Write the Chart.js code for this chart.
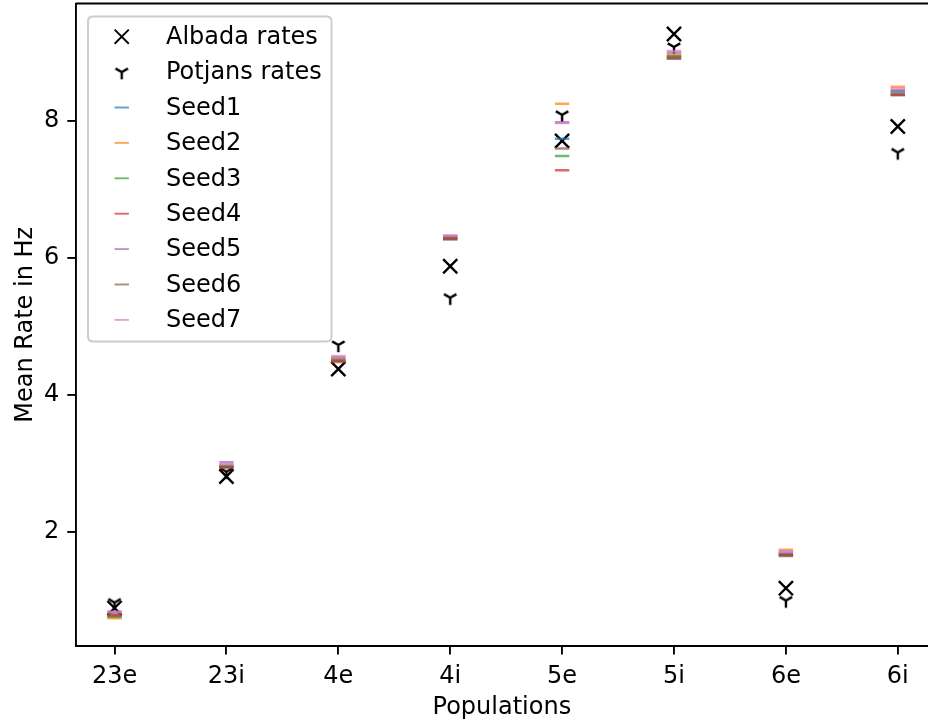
<!DOCTYPE html>
<html>
<head>
<meta charset="utf-8">
<script src="https://cdn.jsdelivr.net/npm/chart.js@4"></script>
<style>
html,body{margin:0;padding:0;background:#fff;overflow:hidden;}
#wrap{width:928px;height:722px;position:relative;}
</style>
</head>
<body>
<div id="wrap"><canvas id="c" width="928" height="722"></canvas></div>
<script>
// ---- data ----
const categories = ['23e','23i','4e','4i','5e','5i','6e','6i'];
const yTicks = [2,4,6,8];
const albada  = [0.89, 2.81, 4.38, 5.88, 7.71, 9.27, 1.18, 7.92];
const potjans = [0.97, 2.88, 4.73, 5.42, 8.09, 9.08, 1.00, 7.54];
const seed1 = [0.76, 2.96, 4.52, 6.30, 7.74, 8.95, 1.68, 8.43];
const seed2 = [0.74, 2.95, 4.53, 6.31, 8.25, 8.97, 1.74, 8.50];
const seed3 = [0.77, 2.97, 4.50, 6.29, 7.49, 8.94, 1.67, 8.38];
const seed4 = [0.79, 2.94, 4.48, 6.28, 7.28, 8.92, 1.66, 8.38];
const seed5 = [0.84, 3.02, 4.55, 6.32, 7.98, 9.00, 1.70, 8.45];
const seed6 = [0.81, 2.95, 4.50, 6.27, 7.60, 8.91, 1.65, 8.40];
const seed7 = [0.83, 2.99, 4.57, 6.33, 7.97, 9.02, 1.72, 8.47];
const seedLabels = ['Seed1','Seed2','Seed3','Seed4','Seed5','Seed6','Seed7'];
const seedColors = ['rgba(31,119,180,0.7)','rgba(255,127,14,0.7)','rgba(44,160,44,0.7)','rgba(214,39,40,0.7)','rgba(148,103,189,0.7)','rgba(140,86,75,0.7)','rgba(227,119,194,0.7)'];
const seeds = [seed1, seed2, seed3, seed4, seed5, seed6, seed7];

// tri_down marker
function triDown(){
  const cv = document.createElement('canvas');
  cv.width = 20; cv.height = 20;
  const g = cv.getContext('2d');
  g.strokeStyle = '#000'; g.lineWidth = 2.4; g.lineCap = 'butt';
  const r = 7.2, cx = 10, cy = 10;
  g.beginPath();
  g.moveTo(cx, cy); g.lineTo(cx, cy + r);
  g.moveTo(cx, cy); g.lineTo(cx - r*0.866, cy - r*0.5);
  g.moveTo(cx, cy); g.lineTo(cx + r*0.866, cy - r*0.5);
  g.stroke();
  return cv;
}
const triImg = triDown();

const toPts = arr => arr.map((v,i)=>({x:i,y:v}));

const datasets = [
  {label:'Albada rates', data:toPts(albada), pointStyle:'crossRot', radius:10, borderWidth:2.4, borderColor:'#000', backgroundColor:'#000', order:9},
  {label:'Potjans rates', data:toPts(potjans), pointStyle:triImg, radius:7, borderWidth:2.4, borderColor:'#000', backgroundColor:'#000', order:8},
];
seeds.forEach((s,k)=>{
  datasets.push({label:seedLabels[k], data:toPts(s), pointStyle:'line', radius:7.2, borderWidth:2.5, borderColor:seedColors[k], backgroundColor:seedColors[k], order:7-k});
});

const FONT = 'DejaVu Sans';
Chart.defaults.font.family = FONT;
Chart.defaults.color = '#000';

const frame = {
  id:'frame',
  afterDraw(chart){
    const {ctx, chartArea:a} = chart;
    ctx.save();
    ctx.strokeStyle = '#000'; ctx.lineWidth = 1.9;
    ctx.beginPath(); ctx.moveTo(a.left, a.top); ctx.lineTo(a.right+2, a.top); ctx.stroke();
    // legend
    const x0 = 88, y0 = 16.5, x1 = 331.5, y1 = 341.5, rr = 5;
    ctx.beginPath();
    ctx.moveTo(x0+rr,y0); ctx.lineTo(x1-rr,y0); ctx.quadraticCurveTo(x1,y0,x1,y0+rr);
    ctx.lineTo(x1,y1-rr); ctx.quadraticCurveTo(x1,y1,x1-rr,y1);
    ctx.lineTo(x0+rr,y1); ctx.quadraticCurveTo(x0,y1,x0,y1-rr);
    ctx.lineTo(x0,y0+rr); ctx.quadraticCurveTo(x0,y0,x0+rr,y0);
    ctx.closePath();
    ctx.fillStyle = 'rgba(255,255,255,0.8)'; ctx.fill();
    ctx.strokeStyle = '#cccccc'; ctx.lineWidth = 1.9; ctx.stroke();
    ctx.font = '24px "' + FONT + '"';
    ctx.textBaseline = 'middle'; ctx.textAlign = 'left';
    chart.data.datasets.forEach((ds,i)=>{
      const cy = 36.7 + i*35.4;
      const mx = 121.7;
      ctx.strokeStyle = ds.borderColor; ctx.fillStyle = ds.backgroundColor;
      Chart.helpers.drawPoint(ctx, {pointStyle:ds.pointStyle, radius:ds.radius, borderWidth:ds.borderWidth, rotation:0}, mx, cy);
      ctx.fillStyle = '#000';
      ctx.fillText(ds.label, 166, cy + 1);
    });
    ctx.restore();
  }
};

new Chart(document.getElementById('c'), {
  type:'scatter',
  data:{datasets},
  options:{
    responsive:false,
    animation:false,
    events:[],
    layout:{autoPadding:false, padding:{top:3.5,right:0,left:0,bottom:0}},
    plugins:{legend:{display:false}, tooltip:{enabled:false}},
    scales:{
      x:{
        type:'linear', min:-0.347, max:7.27,
        afterBuildTicks(ax){ ax.ticks = categories.map((_,i)=>({value:i})); },
        afterFit(ax){ ax.height = 76; ax.paddingLeft = 0; ax.paddingRight = 0; },
        ticks:{callback:(v)=>categories[v], font:{size:24}, color:'#000', padding:8, maxRotation:0, autoSkip:false},
        grid:{drawOnChartArea:false, drawTicks:true, tickLength:8.4, color:'#000', lineWidth:1.9},
        border:{display:true, color:'#000', width:1.9},
        title:{display:true, text:'Populations', font:{size:24}, color:'#000', padding:{top:0,bottom:0}}
      },
      y:{
        type:'linear', min:0.336, max:9.715,
        afterBuildTicks(ax){ ax.ticks = yTicks.map(v=>({value:v})); },
        afterFit(ax){ ax.width = 75.7; ax.paddingTop = 0; ax.paddingBottom = 0; },
        ticks:{font:{size:24}, color:'#000', padding:8},
        grid:{drawOnChartArea:false, drawTicks:true, tickLength:8.4, color:'#000', lineWidth:1.9},
        border:{display:true, color:'#000', width:1.9},
        title:{display:true, text:'Mean Rate in Hz', font:{size:24}, color:'#000', padding:{top:11,bottom:0}}
      }
    }
  },
  plugins:[frame]
});
</script>
</body>
</html>
